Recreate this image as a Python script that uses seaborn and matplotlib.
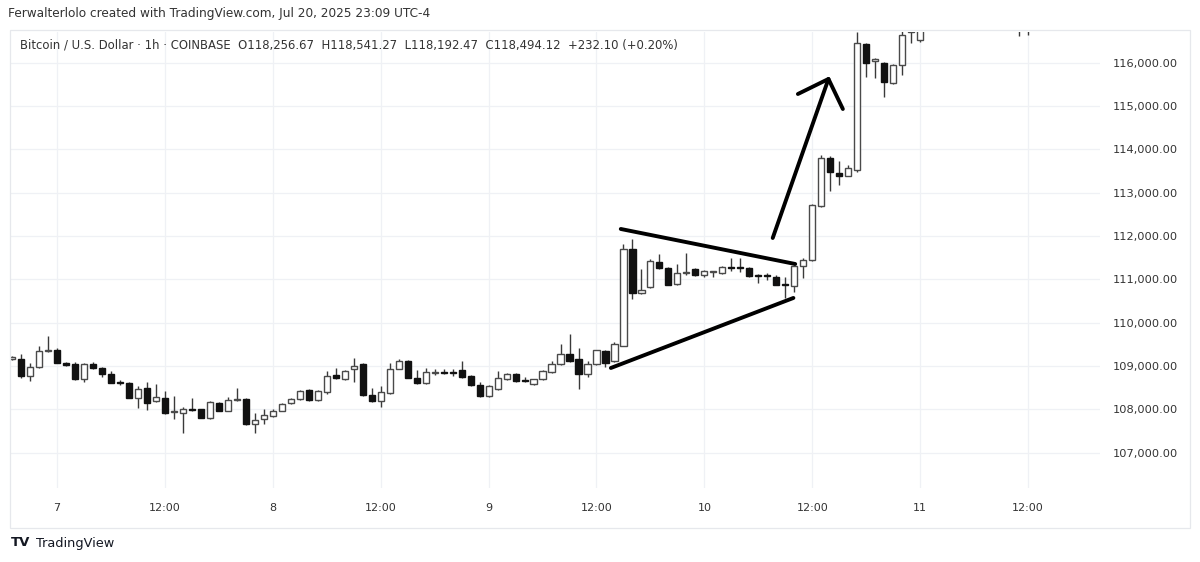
import matplotlib
matplotlib.use("Agg")
import matplotlib.pyplot as plt
import seaborn as sns
import pandas as pd
from matplotlib.patches import Rectangle

# ---- data: hours from Jul 7 00:00 (UTC-4), 1h candles ----
hours = list(range(-5, 97)) + [107, 108]
opens = [109150, 109150, 108770, 108980, 109350, 109380, 109080, 109050, 108690, 109050,
         108960, 108810, 108620, 108600, 108270, 108500, 108190, 108270, 107930, 107910,
         108000, 108000, 107800, 108140, 107960, 108220, 108230, 107650, 107770, 107850,
         107960, 108140, 108230, 108440, 108210, 108390, 108790, 108700, 108930, 109040,
         108340, 108190, 108380, 108940, 109120, 108730, 108600, 108840, 108850, 108840,
         108900, 108760, 108570, 108310, 108480, 108700, 108810, 108670, 108580, 108690,
         108850, 109040, 109280, 109150, 108810, 109040, 109350, 109110, 109470, 111700,
         110690, 110830, 111390, 111270, 110890, 111150, 111240, 111100, 111170, 111140,
         111270, 111260, 111250, 111090, 111080, 111060, 110870, 110850, 111300, 111450,
         112690, 113800, 113460, 113390, 113530, 116430, 116050, 115990, 115530, 115950,
         116700, 116520, 117600, 117300]
highs = [109230, 109268, 109080, 109460, 109690, 109420, 109100, 109100, 109060, 109090,
         108980, 108890, 108680, 108620, 108540, 108640, 108580, 108430, 108300, 108060,
         108250, 108010, 108200, 108160, 108280, 108500, 108250, 107920, 108000, 108010,
         108140, 108270, 108440, 108460, 108440, 108890, 108960, 108910, 109190, 109060,
         108500, 108540, 109060, 109150, 109140, 108910, 108960, 108920, 108930, 108930,
         109110, 108790, 108640, 108560, 108890, 108830, 108830, 108740, 108700, 108910,
         109120, 109500, 109730, 109420, 109110, 109380, 109370, 109560, 111810, 111920,
         111240, 111480, 111580, 111290, 111350, 111610, 111260, 111210, 111200, 111300,
         111500, 111490, 111280, 111130, 111150, 111090, 111060, 111320, 111490, 112740,
         113870, 113850, 113720, 113640, 116710, 116450, 116100, 116010, 115970, 116800,
         117100, 117500, 117800, 117700]
lows = [109130, 108730, 108650, 108960, 109330, 109060, 108990, 108680, 108620, 108930,
        108750, 108600, 108560, 108260, 108040, 107990, 108170, 107900, 107770, 107460,
        107960, 107800, 107780, 107950, 107950, 108200, 107640, 107460, 107650, 107820,
        107950, 108120, 108220, 108200, 108190, 108350, 108700, 108680, 108620, 108300,
        108170, 108060, 108360, 108920, 108720, 108580, 108590, 108800, 108810, 108760,
        108730, 108540, 108290, 108290, 108450, 108680, 108640, 108620, 108560, 108670,
        108830, 109020, 109090, 108460, 108750, 109020, 108970, 109090, 109450, 110540,
        110660, 110810, 111230, 110860, 110880, 111100, 111080, 111060, 111050, 111120,
        111200, 111180, 111060, 110920, 110980, 110860, 110570, 110710, 111030, 111430,
        112670, 113030, 113180, 113380, 113480, 115660, 115640, 115210, 115510, 115720,
        116450, 116480, 116620, 116650]
closes = [109200, 108770, 108980, 109350, 109360, 109075, 109020, 108690, 109040, 108960,
          108810, 108610, 108600, 108270, 108460, 108150, 108290, 107920, 107950, 108000,
          107990, 107810, 108170, 107960, 108220, 108230, 107650, 107750, 107860, 107960,
          108120, 108240, 108420, 108210, 108420, 108780, 108720, 108890, 109000, 108320,
          108190, 108400, 108940, 109120, 108730, 108600, 108850, 108850, 108840, 108830,
          108750, 108560, 108300, 108540, 108730, 108810, 108650, 108660, 108690, 108890,
          109040, 109280, 109110, 108810, 109050, 109360, 109080, 109500, 111690, 110690,
          110760, 111420, 111260, 110880, 111150, 111160, 111100, 111190, 111180, 111280,
          111260, 111250, 111080, 111080, 111070, 110870, 110860, 111300, 111450, 112720,
          113800, 113470, 113380, 113560, 116450, 115990, 116080, 115560, 115950, 116640,
          116900, 117200, 117300, 117500]

tick_hours = [0, 12, 24, 36, 48, 60, 72, 84, 96, 108]
tick_labels = ["7", "12:00", "8", "12:00", "9", "12:00", "10", "12:00", "11", "12:00"]
price_ticks = [107000, 108000, 109000, 110000, 111000, 112000, 113000, 114000, 115000, 116000]

# hand-drawn annotation (hour, price)
upper_line_h = [62.7, 82.1]
upper_line_p = [112162, 111354]
lower_line_h = [61.6, 81.9]
lower_line_p = [108954, 110570]
arrow_shaft_h = [79.6, 85.8]
arrow_shaft_p = [111954, 115624]
arrow_head_h = [82.4, 85.8, 87.4]
arrow_head_p = [115277, 115624, 114931]

header1 = "Ferwalterlolo created with TradingView.com, Jul 20, 2025 23:09 UTC-4"
header2 = ("Bitcoin / U.S. Dollar \u00b7 1h \u00b7 COINBASE  O118,256.67  H118,541.27  "
           "L118,192.47  C118,494.12  +232.10 (+0.20%)")

sns.set_theme(style="white")
plt.rcParams['font.family'] = ['DejaVu Sans']

df = pd.DataFrame(dict(hour=hours, open=opens, high=highs, low=lows, close=closes))
df["bull"] = df["close"] >= df["open"]
df["bottom"] = df[["open", "close"]].min(axis=1)
df["height"] = (df["close"] - df["open"]).abs().clip(lower=28)

W, H = 1200, 562
fig = plt.figure(figsize=(W / 100, H / 100), dpi=100)
fig.patch.set_facecolor("white")
ax = fig.add_axes([10 / W, 1 - 488 / H, 1090 / W, 456 / H])
ax.set_facecolor("white")

# wicks
ax.vlines(df["hour"], df["low"], df["high"], color="#3a3a3a", lw=1.0, zorder=2)
# bodies
bull = df[df["bull"]]
bear = df[~df["bull"]]
ax.bar(bull["hour"], bull["height"], bottom=bull["bottom"], width=0.68,
       color="white", edgecolor="#4a4a4a", linewidth=1.0, zorder=3)
ax.bar(bear["hour"], bear["height"], bottom=bear["bottom"], width=0.68,
       color="#111111", edgecolor="#111111", linewidth=1.0, zorder=3)

# annotations
for hx, py in [(upper_line_h, upper_line_p), (lower_line_h, lower_line_p),
               (arrow_shaft_h, arrow_shaft_p), (arrow_head_h, arrow_head_p)]:
    sns.lineplot(x=hx, y=py, sort=False, ax=ax, color="black", lw=2.8,
                 solid_capstyle="round", solid_joinstyle="round", zorder=5,
                 estimator=None)

ax.set_xlim(-5.23, 116.0)
ax.set_ylim(106184, 116708)
ax.set_xticks(tick_hours)
ax.set_xticklabels(tick_labels)
ax.set_yticks(price_ticks)
ax.set_yticklabels([f"{p:,.2f}" for p in price_ticks])
ax.yaxis.tick_right()
ax.tick_params(axis="x", length=0, pad=11, labelsize=8, labelcolor="#333333")
ax.tick_params(axis="y", length=0, pad=9, labelsize=8.2, labelcolor="#333333")
ax.grid(True, color="#eff1f5", lw=0.9, zorder=0)
ax.set_axisbelow(True)
for s in ax.spines.values():
    s.set_visible(False)
ax.set_xlabel("")
ax.set_ylabel("")

# frame around chart
fig.add_artist(Rectangle((10 / W, 1 - 528 / H), 1180 / W, 498 / H, transform=fig.transFigure,
                         fill=False, ec="#e6e8ec", lw=0.9))

fig.text(8 / W, 1 - 14 / H, header1, fontsize=8.7, color="#333333", va="center", ha="left")
fig.text(20 / W, 1 - 45 / H, header2, fontsize=8.35, color="#333333", va="center", ha="left")
fig.text(11 / W, 1 - 543 / H, "TV", fontsize=9.5, fontweight="bold", color="#131722",
         va="center", ha="left")
fig.text(36 / W, 1 - 543 / H, "TradingView", fontsize=9.3, color="#131722",
         va="center", ha="left")

fig.savefig("out.png", dpi=100, facecolor="white")
